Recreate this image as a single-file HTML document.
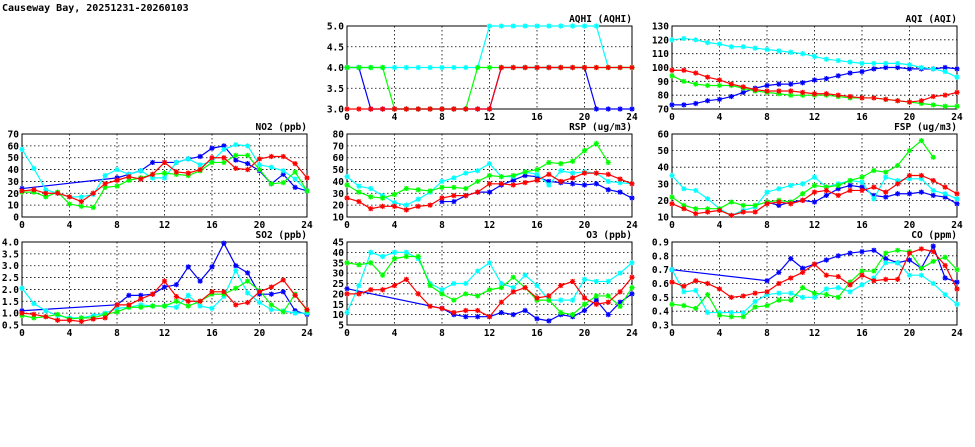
<!DOCTYPE html>
<html><head><meta charset="utf-8"><style>
html,body{margin:0;padding:0;background:#fff;}
svg{display:block;font-family:"DejaVu Sans Mono","Liberation Mono",monospace;}
</style></head><body>
<svg id="c" width="975" height="447">
<text x="2" y="11" font-size="10" font-weight="bold" fill="#000">Causeway Bay, 20251231-20260103</text>
</svg>
<script>
const N=null;
const hours=[0,1,2,3,4,5,6,7,8,9,10,11,12,13,14,15,16,17,18,19,20,21,22,23,24];
const xTicks=[0,4,8,12,16,20,24];
const seriesColors=['#0000ff','#00ffff','#00ff00','#ff0000'];

const aqhiBlue=[4,4,3,3,3,3,3,3,3,3,3,3,3,4,4,4,4,4,4,4,4,3,3,3,3];
const aqhiCyan=[4,4,4,4,4,4,4,4,4,4,4,4,5,5,5,5,5,5,5,5,5,5,4,4,4];
const aqhiGreen=[4,4,4,4,3,3,3,3,3,3,3,4,4,4,4,4,4,4,4,4,4,4,4,4,4];
const aqhiRed=[3,3,3,3,3,3,3,3,3,3,3,3,3,4,4,4,4,4,4,4,4,4,4,4,4];
const aqhiTicks=['3.0','3.5','4.0','4.5','5.0'];

const aqiBlue=[73,73,74,76,77,79,82,85,87,88,88,89,91,92,94,96,97,99,100,100,99,99,99,100,99];
const aqiCyan=[120,121,120,118,117,115,115,114,113,112,111,110,108,106,105,104,103,103,103,103,102,100,99,97,93];
const aqiGreen=[94,90,88,87,87,87,85,83,82,81,80,80,80,80,79,78,78,78,77,76,75,74,73,72,72];
const aqiRed=[98,98,96,93,91,88,86,84,83,83,83,82,81,81,80,79,78,78,77,76,75,76,79,80,82];
const aqiTicks=['70','80','90','100','110','120','130'];

const no2Blue=[24,N,N,N,N,N,N,N,33,36,39,46,46,46,49,51,58,60,48,45,39,28,36,25,22];
const no2Cyan=[57,41,23,20,17,17,19,35,40,36,39,33,33,46,49,44,47,57,61,60,44,42,39,32,22];
const no2Green=[21,21,17,21,11,9,8,25,26,31,33,36,37,36,35,39,46,46,52,52,40,28,29,38,22];
const no2Red=[22,23,20,20,17,13,20,28,31,34,32,36,46,38,37,40,50,50,41,40,49,51,51,45,33];
const no2Ticks=['0','10','20','30','40','50','60','70'];

const rspBlue=[N,N,N,N,N,N,N,N,23,23,28,31,31,37,41,45,44,40,39,38,37,38,33,31,26];
const rspCyan=[44,36,34,28,22,20,25,31,40,43,47,49,55,44,44,48,46,37,49,47,48,47,40,39,38];
const rspGreen=[37,31,27,26,29,34,33,32,35,35,34,40,45,44,45,48,50,56,55,57,66,72,56,N,N];
const rspRed=[26,23,17,19,19,16,19,20,26,28,28,31,38,38,37,39,41,46,40,43,47,47,46,42,38];
const rspTicks=['10','20','30','40','50','60','70','80'];

const fspBlue=[N,N,N,N,N,N,N,N,19,17,19,20,19,23,27,29,28,23,22,24,24,25,23,22,18];
const fspCyan=[35,27,26,21,15,11,14,16,25,27,29,30,34,28,30,32,31,21,34,32,33,33,26,24,21];
const fspGreen=[22,17,15,15,15,19,17,17,19,20,19,24,29,28,29,32,34,38,37,41,50,56,46,N,N];
const fspRed=[18,15,12,13,14,11,13,13,18,19,18,20,25,26,23,26,26,28,25,30,35,35,32,28,24];
const fspTicks=['10','20','30','40','50','60'];

const so2Blue=[1.1,N,N,N,N,N,N,N,1.35,1.75,1.75,1.8,2.1,2.2,2.95,2.35,2.95,3.95,3.0,2.7,1.8,1.8,1.9,1.1,0.95];
const so2Cyan=[2.05,1.4,1.1,0.9,0.8,0.8,0.9,1.0,1.2,1.25,1.35,1.3,1.3,1.25,1.75,1.3,1.2,1.7,2.8,1.85,1.45,1.15,1.1,1.0,1.0];
const so2Green=[0.9,0.8,0.85,0.95,0.75,0.8,0.8,0.95,1.05,1.25,1.25,1.3,1.3,1.5,1.3,1.5,1.8,1.8,2.05,2.35,1.95,1.35,1.05,1.8,1.1];
const so2Red=[1.0,0.95,0.85,0.7,0.7,0.65,0.75,0.8,1.35,1.35,1.6,1.8,2.35,1.7,1.5,1.5,1.9,1.9,1.35,1.45,1.9,2.1,2.4,1.75,1.15];
const so2Ticks=['0.5','1.0','1.5','2.0','2.5','3.0','3.5','4.0'];

const o3Blue=[22.5,N,N,N,N,N,N,N,13,10,9,9,9,11,10,12,8,7,10,9,12,17,10,16,20];
const o3Cyan=[11,24,40,38,40,40,37,25,22,25,25,31,35,25,23,29,24,17,17,17,27,26,26,30,35];
const o3Green=[35,34,35,29,37,38,38,24,20,17,20,19,22,23,28,23,17,17,11,10,15,19,19,14,23];
const o3Red=[20,20,22,22,24,27,20,14,13,11,12,12,9,16,21,23,18,19,24,26,18,15,16,21,28];
const o3Ticks=['5','10','15','20','25','30','35','40','45'];

const coBlue=[0.70,N,N,N,N,N,N,N,0.62,0.68,0.78,0.71,0.74,0.77,0.80,0.82,0.83,0.84,0.78,0.75,0.77,0.71,0.87,0.64,0.61];
const coCyan=[0.70,0.54,0.55,0.39,0.39,0.39,0.39,0.47,0.52,0.53,0.53,0.50,0.50,0.56,0.57,0.54,0.59,0.64,0.75,0.75,0.66,0.66,0.60,0.52,0.45];
const coGreen=[0.45,0.44,0.42,0.52,0.37,0.36,0.36,0.43,0.44,0.48,0.48,0.57,0.53,0.52,0.50,0.61,0.69,0.69,0.82,0.84,0.83,0.71,0.76,0.79,0.70];
const coRed=[0.61,0.58,0.62,0.60,0.56,0.50,0.51,0.53,0.54,0.60,0.64,0.68,0.74,0.66,0.65,0.59,0.66,0.62,0.63,0.63,0.82,0.85,0.83,0.73,0.56];
const coTicks=['0.3','0.4','0.5','0.6','0.7','0.8','0.9'];

const panels=[
 {name:'aqhi',title:'AQHI (AQHI)',x0:347,x1:632,y0:26,y1:109,ticks:aqhiTicks,series:[aqhiBlue,aqhiCyan,aqhiGreen,aqhiRed]},
 {name:'aqi',title:'AQI (AQI)',x0:672,x1:957,y0:26,y1:109,ticks:aqiTicks,series:[aqiBlue,aqiCyan,aqiGreen,aqiRed]},
 {name:'no2',title:'NO2 (ppb)',x0:22,x1:307,y0:134,y1:217,ticks:no2Ticks,series:[no2Blue,no2Cyan,no2Green,no2Red]},
 {name:'rsp',title:'RSP (ug/m3)',x0:347,x1:632,y0:134,y1:217,ticks:rspTicks,series:[rspBlue,rspCyan,rspGreen,rspRed]},
 {name:'fsp',title:'FSP (ug/m3)',x0:672,x1:957,y0:134,y1:217,ticks:fspTicks,series:[fspBlue,fspCyan,fspGreen,fspRed]},
 {name:'so2',title:'SO2 (ppb)',x0:22,x1:307,y0:242,y1:325,ticks:so2Ticks,series:[so2Blue,so2Cyan,so2Green,so2Red]},
 {name:'o3',title:'O3 (ppb)',x0:347,x1:632,y0:242,y1:325,ticks:o3Ticks,series:[o3Blue,o3Cyan,o3Green,o3Red]},
 {name:'co',title:'CO (ppm)',x0:672,x1:957,y0:242,y1:325,ticks:coTicks,series:[coBlue,coCyan,coGreen,coRed]}
];
const svg=document.getElementById('c');
const NS='http://www.w3.org/2000/svg';
function mk(tag,attrs,parent){const e=document.createElementNS(NS,tag);for(const k in attrs)e.setAttribute(k,attrs[k]);parent.appendChild(e);return e;}
const colorNames=['blue','cyan','green','red'];
panels.forEach(p=>{
 const g=mk('g',{},svg);
 
 
 const tv=p.ticks.map(Number);const ymin=tv[0],ymax=tv[tv.length-1];
 const xs=v=>p.x0+(v-0)/24*(p.x1-p.x0);
 const ys=v=>p.y1-(v-ymin)/(ymax-ymin)*(p.y1-p.y0);
 p.ticks.forEach(t=>{const y=ys(+t);
  if(+t!==ymin&&+t!==ymax){const l=mk('line',{x1:p.x0,x2:p.x1,y1:y,y2:y,stroke:'#000','stroke-width':0.8,'stroke-dasharray':'1.5,2.5'},g);}
  const tx=mk('text',{x:p.x0-3,y:y+3.5,'font-size':9.5,'font-weight':'bold','text-anchor':'end'},g);tx.textContent=t;
  
 });
 xTicks.forEach(t=>{const x=xs(t);
  if(t!==0&&t!==24){const l=mk('line',{x1:x,x2:x,y1:p.y0,y2:p.y1,stroke:'#000','stroke-width':0.8,'stroke-dasharray':'1.5,2.5'},g);}
  const tx=mk('text',{x:x,y:p.y1+11,'font-size':9.5,'font-weight':'bold','text-anchor':'middle'},g);tx.textContent=t;
  
 });
 const fr=mk('rect',{x:p.x0,y:p.y0,width:p.x1-p.x0,height:p.y1-p.y0,fill:'none',stroke:'#000','stroke-width':1},g);
 
 const tt=mk('text',{x:p.x1,y:p.y0-4,'font-size':9.5,'font-weight':'bold','text-anchor':'end'},g);tt.textContent=p.title;
 
 p.series.forEach((s,si)=>{
  const col=seriesColors[si];
  const pts=[];s.forEach((v,i)=>{if(v!==null)pts.push([xs(hours[i]),ys(v)]);});
  const pl=mk('polyline',{points:pts.map(q=>q.join(',')).join(' '),fill:'none',stroke:col,'stroke-width':1.2},g);
  
  
  pts.forEach(q=>{const r=2.6;
   const m=mk('path',{d:`M${q[0]-r},${q[1]}H${q[0]+r}M${q[0]},${q[1]-r}V${q[1]+r}M${q[0]-r*0.75},${q[1]-r*0.75}L${q[0]+r*0.75},${q[1]+r*0.75}M${q[0]-r*0.75},${q[1]+r*0.75}L${q[0]+r*0.75},${q[1]-r*0.75}`,stroke:col,'stroke-width':1.2},g);
   
   
  });
 });
});
</script>
</body></html>
